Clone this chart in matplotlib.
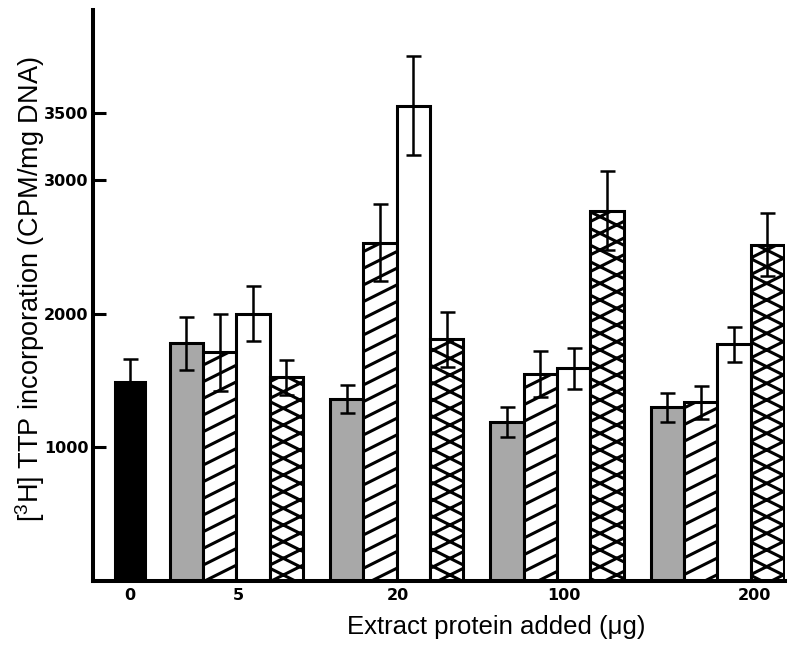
import numpy as np
import matplotlib
matplotlib.use("Agg")
import matplotlib.pyplot as plt
import matplotlib.hatch as mhatch
from matplotlib.path import Path

# ---------------- data ----------------
dose_labels = ["0", "5", "20", "100", "200"]
control_value = [1490]
control_err = [170]
treated_doses = ["5", "20", "100", "200"]
stippled_vals = [1776, 1358, 1187, 1300]
stippled_err = [200, 105, 113, 108]
hatched_vals = [1709, 2530, 1545, 1336]
hatched_err = [290, 290, 172, 123]
white_vals = [2000, 3552, 1590, 1769]
white_err = [205, 370, 152, 130]
cross_vals = [1522, 1806, 2770, 2515]
cross_err = [130, 205, 295, 238]
ytick_vals = [1000, 2000, 3000, 3500]

# ---------------- custom shallow hatches (slope 1/2) ----------------
class _Shallow(mhatch.HatchPatternBase):
    chars = ""
    sign = 1.0

    def __init__(self, hatch, density):
        n = sum(hatch.count(c) for c in self.chars)
        self.offsets = np.arange(-8, 15) / 6.0 if n else np.array([])
        self.num_vertices = 2 * len(self.offsets)

    def set_vertices_and_codes(self, vertices, codes):
        x0, x1 = -1.0, 2.0
        vertices[0::2, 0] = x0
        vertices[0::2, 1] = self.offsets + self.sign * 0.5 * x0
        vertices[1::2, 0] = x1
        vertices[1::2, 1] = self.offsets + self.sign * 0.5 * x1
        codes[0::2] = Path.MOVETO
        codes[1::2] = Path.LINETO


class _NE(_Shallow):
    chars = "/x"
    sign = 1.0


class _SE(_Shallow):
    chars = "\\x"
    sign = -1.0


mhatch._hatch_types = [t for t in mhatch._hatch_types
                       if t not in (mhatch.NorthEastHatch, mhatch.SouthEastHatch)] + [_NE, _SE]

plt.rcParams["hatch.linewidth"] = 2.2
plt.rcParams["font.family"] = ["Liberation Sans", "DejaVu Sans"]

# ---------------- layout ----------------
fig = plt.figure(figsize=(8, 6.64), dpi=100)
ax = fig.add_axes([0.116, 0.125, 0.865, 0.86])

group_pos = np.arange(1, len(treated_doses) + 1, dtype=float)
control_pos = np.array([0.336])
bw = 0.208
offsets = (np.arange(4) - 1.5) * bw
label_pos = [0.336, 1.01, 2.01, 3.04, 4.23]

edge_lw = 2.2
err_kw = dict(ecolor="black", elinewidth=1.8, capsize=5.4, capthick=1.8, zorder=5)

ax.bar(control_pos, control_value, width=0.187, color="black", edgecolor="black",
       linewidth=edge_lw, zorder=2)
ax.errorbar(control_pos, control_value, yerr=control_err, fmt="none", **err_kw)

series = [
    (stippled_vals, stippled_err, dict(facecolor="#a8a8a8", hatch=None)),
    (hatched_vals, hatched_err, dict(facecolor="white", hatch="/")),
    (white_vals, white_err, dict(facecolor="white", hatch=None)),
    (cross_vals, cross_err, dict(facecolor="white", hatch="x")),
]
for i, (vals, errs, style) in enumerate(series):
    x = group_pos + offsets[i]
    ax.bar(x, vals, width=bw, edgecolor="black", linewidth=edge_lw, zorder=2, **style)
    ax.errorbar(x, vals, yerr=errs, fmt="none", **err_kw)

ax.set_xlim(0.105, 4.42)
ax.set_ylim(0, 4270)

for s in ["top", "right"]:
    ax.spines[s].set_visible(False)
for s in ["left", "bottom"]:
    ax.spines[s].set_linewidth(2.9)

ax.set_yticks(ytick_vals)
ax.set_yticklabels([str(v) for v in ytick_vals])
ax.tick_params(axis="y", direction="in", length=9.5, width=2.2, pad=3,
               labelsize=11.5, labelfontfamily="DejaVu Sans")

ax.set_xticks(label_pos)
ax.set_xticklabels(dose_labels)
ax.tick_params(axis="x", length=0, pad=5, labelsize=11.5, labelfontfamily="DejaVu Sans")

for lab in ax.get_xticklabels() + ax.get_yticklabels():
    lab.set_fontweight("bold")

fig.text(0.038, 0.565, r"[$^{\mathregular{3}}$H] TTP incorporation (CPM/mg DNA)",
         rotation=90, ha="center", va="center", fontsize=19.5)
fig.text(0.62, 0.0557, "Extract protein added (\u03bcg)", ha="center", va="center",
         fontsize=18.5)

fig.savefig("out.png", dpi=100)
